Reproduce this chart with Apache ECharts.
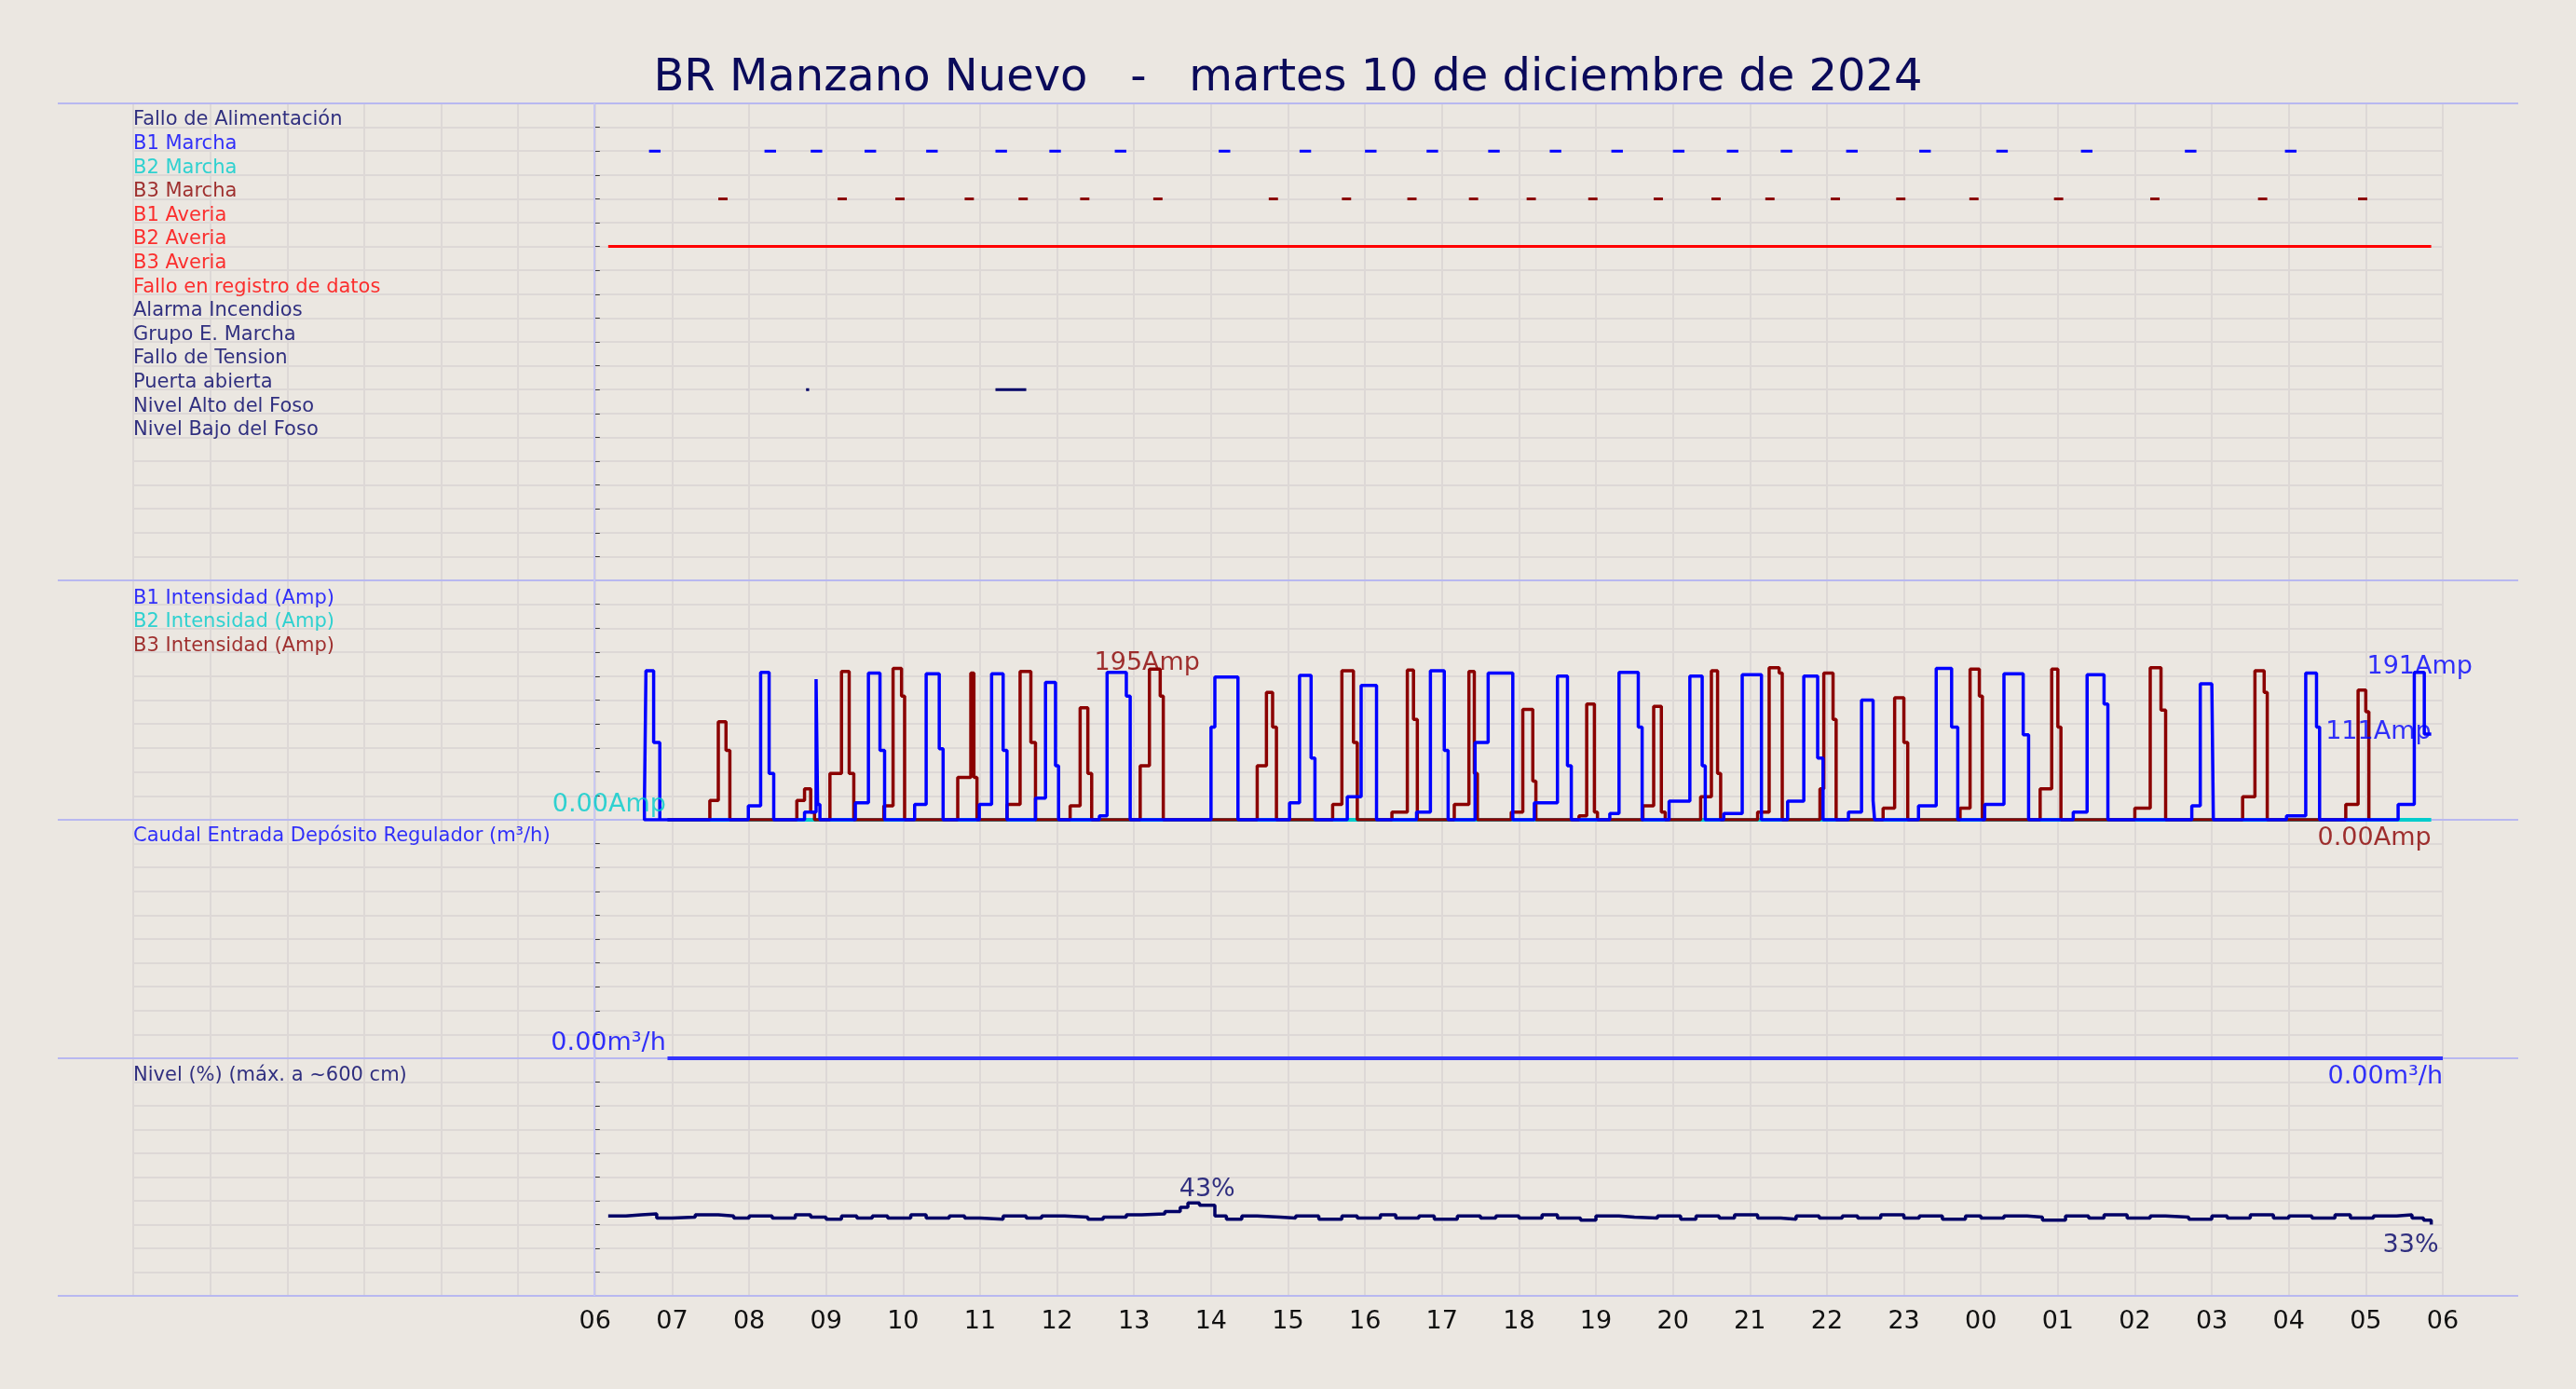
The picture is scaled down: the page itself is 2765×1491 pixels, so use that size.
<!DOCTYPE html>
<html><head><meta charset="utf-8">
<script src="https://cdn.jsdelivr.net/npm/echarts@6/dist/echarts.min.js"></script>
<style>html,body{margin:0;background:#ebe7e1}#c{width:2765px;height:1491px}</style>
</head><body><div id="c"></div>
<script>
// ---- DATA (hours after 06:00) ----
const statusLabels = ["Fallo de Alimentación","B1 Marcha","B2 Marcha","B3 Marcha","B1 Averia","B2 Averia","B3 Averia","Fallo en registro de datos","Alarma Incendios","Grupo E. Marcha","Fallo de Tension","Puerta abierta","Nivel Alto del Foso","Nivel Bajo del Foso"];
const statusColors = ["#000066","#0000ff","#00cccc","#8b0000","#ff0000","#ff0000","#ff0000","#ff0000","#000066","#000066","#000066","#000066","#000066","#000066"];
const b1Marcha = [0.7,2.2,2.8,3.5,4.3,5.2,5.9,6.75,8.1,9.15,10.0,10.8,11.6,12.4,13.2,14.0,14.7,15.4,16.25,17.2,18.2,19.3,20.65,21.95];
const b3Marcha = [1.6,3.15,3.9,4.8,5.5,6.3,7.25,8.75,9.7,10.55,11.35,12.1,12.9,13.75,14.5,15.2,16.05,16.9,17.85,18.95,20.2,21.6,22.9];
const b2Averia = [[0.17,23.85]];
const puerta = [[2.74,2.78],[5.2,5.6]];
// cycles: [start, rise, drop, end, low, peak, tail]
const b1Cycles = [[0.64,0.66,0.76,0.84,20,193,100],[1.99,2.15,2.26,2.32,18,191,60],[2.72,2.87,2.89,2.92,10,182,20],[3.38,3.55,3.7,3.76,22,190,90],[4.15,4.3,4.47,4.52,20,189,92],[4.99,5.15,5.3,5.35,20,189,90],[5.72,5.85,5.98,6.02,28,178,70],[6.55,6.65,6.9,6.95,5,191,160],[8.0,8.05,8.3,8.35,120,185,185],[9.02,9.15,9.3,9.35,22,187,80],[9.77,9.95,10.1,10.15,30,174,174],[10.67,10.85,11.03,11.08,10,193,90],[11.43,11.6,11.88,11.92,100,190,190],[12.2,12.5,12.63,12.68,22,186,70],[13.18,13.3,13.55,13.6,8,191,120],[13.95,14.22,14.38,14.42,24,186,70],[14.66,14.9,15.1,15.15,8,188,188],[15.49,15.7,15.88,15.95,24,186,80],[16.28,16.45,16.6,16.62,10,155,25],[17.19,17.42,17.62,17.7,18,196,120],[18.05,18.3,18.55,18.62,20,189,110],[19.2,19.38,19.6,19.65,10,188,150],[20.74,20.85,21.0,21.02,18,176,176],[21.97,22.22,22.36,22.4,5,190,120],[23.42,23.63,23.76,23.85,20,191,111]];
const b3Cycles = [[1.49,1.6,1.7,1.75,25,127,90],[2.62,2.72,2.8,2.85,25,40,10],[3.05,3.2,3.3,3.36,60,192,60],[3.75,3.87,3.98,4.02,18,196,160],[4.71,4.88,4.92,4.96,55,190,55],[5.35,5.52,5.66,5.72,20,192,100],[6.17,6.3,6.4,6.45,18,145,60],[7.08,7.2,7.34,7.38,70,195,160],[8.6,8.72,8.8,8.85,70,165,120],[9.58,9.7,9.85,9.9,20,193,100],[10.35,10.55,10.63,10.68,10,194,130],[11.16,11.35,11.42,11.46,20,192,60],[11.9,12.05,12.18,12.22,10,143,50],[12.78,12.88,12.98,13.02,5,150,10],[13.61,13.75,13.85,13.9,18,147,10],[14.36,14.5,14.58,14.62,30,193,60],[15.1,15.25,15.38,15.42,10,197,190],[15.91,15.96,16.08,16.12,40,190,130],[16.73,16.88,17.0,17.05,15,158,100],[17.73,17.86,17.98,18.02,15,195,160],[18.77,18.92,19.0,19.04,40,195,120],[20.0,20.2,20.34,20.4,15,197,142],[21.4,21.56,21.68,21.72,30,193,165],[22.74,22.9,23.0,23.04,20,168,140]];
const flowStart = 0.94, flowEnd = 24, flowValue = 0;
const nivelTimes = [0.17,0.4,0.6,0.8,1.0,1.3,1.6,1.8,2.0,2.3,2.6,2.8,3.0,3.2,3.4,3.6,3.8,4.1,4.3,4.6,4.8,5.0,5.3,5.6,5.8,6.1,6.4,6.6,6.9,7.1,7.4,7.6,7.7,7.85,8.05,8.2,8.4,8.6,8.9,9.1,9.4,9.7,9.9,10.2,10.4,10.7,10.9,11.2,11.5,11.7,12.0,12.3,12.5,12.8,13.0,13.3,13.5,13.8,14.1,14.3,14.6,14.8,15.1,15.4,15.6,15.9,16.2,16.4,16.7,17.0,17.2,17.5,17.8,18.0,18.3,18.6,18.8,19.1,19.4,19.6,19.9,20.2,20.4,20.7,21.0,21.2,21.5,21.8,22.0,22.3,22.6,22.8,23.1,23.4,23.6,23.75,23.85];
const nivelValues = [37,37.5,38,36,36.5,37.5,37,36,37,36,37.5,36.5,35.5,37,36,37,36,37.5,36,37,36,35.5,37,36,37,36.5,35.5,36.5,37.5,38,39,41,43,42,37,35.5,37,36.5,36,37,35.5,37,36,37.5,36,37,35.5,37,36,37,36,37.5,36,35,37,36.5,36,37,35.5,37,36,37.5,36,35.5,37,36,37,36,37.5,36,37,35.5,37,36,37,36.5,35,37,36,37.5,36,37,36.5,35.5,37,36,37.5,36,37,36,37.5,36,37,37.5,36,35,33];
const xTickLabels = ["06","07","08","09","10","11","12","13","14","15","16","17","18","19","20","21","22","23","00","01","02","03","04","05","06"];

// ---- BUILD ----
function cyclePts(cycles){
  const p=[[0.94,0]];
  cycles.forEach(c=>{const [s,r,d,e,lo,pk,tl]=c;
    p.push([s,0],[s,lo],[r,lo],[r,pk],[d,pk],[d,tl],[e,tl]);
    if(e<23.8)p.push([e,0]);});
  return p;
}
function dashes(times,row,len){const d=[];times.forEach(t=>{d.push([t,row],[t+len,row],[t+len,'-']);});return d;}
function segs(list,row){const d=[];list.forEach(s=>{d.push([s[0],row],[s[1],row],[s[1],'-']);});return d;}
const GRID=[{top:111,h:512},{top:623,h:257},{top:880,h:256},{top:1136,h:255}];
const grids=GRID.map(g=>({left:143,right:143,top:g.top,height:g.h}));
const gl={show:true,lineStyle:{color:'#ddd8d6',width:2}};
const xAxes=GRID.map((g,i)=>({gridIndex:i,type:'value',min:-6,max:24,interval:1,
  axisLine:{show:false},axisTick:{show:false},
  splitLine:gl,
  axisLabel:{show:i==3,fontSize:27,color:'#111',fontFamily:'DejaVu Sans',margin:14,
    formatter:v=>v>=0?xTickLabels[v]:''}}));
const yAxes=[
 {gridIndex:0,min:0,max:20,interval:1,inverse:true},
 {gridIndex:1,min:0,max:310,interval:31},
 {gridIndex:2,min:0,max:10,interval:1},
 {gridIndex:3,min:0,max:110,interval:11}].map(a=>Object.assign(a,{type:'value',position:'right',
  axisLine:{show:false},axisLabel:{show:false},axisTick:{show:true,inside:false,length:5,lineStyle:{color:'#333'}},splitLine:gl}));
const F='DejaVu Sans';
function textSeries(gi,items){return {type:'scatter',xAxisIndex:gi,yAxisIndex:gi,symbolSize:0,silent:true,z:10,
  data:items.map(t=>({value:[t.x,t.y],label:{show:true,formatter:t.text,position:t.pos||'right',distance:0,color:t.color,fontSize:t.fs||21,fontFamily:F,align:t.align,verticalAlign:'middle',offset:t.off||[0,0]}}))};}
const series=[];
series.push(textSeries(0,statusLabels.map((s,i)=>({x:-6,y:i+0.7,text:s,color:statusColors[i]}))));
const ln=(gi,data,color,w,z)=>({type:'line',xAxisIndex:gi,yAxisIndex:gi,data,showSymbol:false,symbol:'none',connectNulls:false,lineStyle:{color,width:w},z:z||3,animation:false});
series.push(ln(0,dashes(b1Marcha,2,0.15),'#0000ff',3));
series.push(ln(0,dashes(b3Marcha,4,0.12),'#8b0000',3));
series.push(ln(0,segs(b2Averia,6),'#ff0000',3));
series.push(ln(0,segs(puerta,12),'#000066',3));
series.push(textSeries(1,[{x:-6,y:287,text:'B1 Intensidad (Amp)',color:'#0000ff'},{x:-6,y:256,text:'B2 Intensidad (Amp)',color:'#00cccc'},{x:-6,y:225,text:'B3 Intensidad (Amp)',color:'#8b0000'}]));
series.push(ln(1,[[0.94,0],[23.85,0]],'#00cccc',4,2));
series.push(ln(1,cyclePts(b3Cycles),'#8b0000',3.5,4));
series.push(ln(1,cyclePts(b1Cycles),'#0000ff',3.5,5));
series.push(textSeries(1,[
 {x:7.17,y:195,text:'195Amp',color:'#8b0000',pos:'top',fs:27,off:[0,-6]},
 {x:23.7,y:191,text:'191Amp',color:'#0000ff',pos:'top',fs:27,off:[0,-6]},
 {x:23.85,y:111,text:'111Amp',color:'#0000ff',pos:'left',fs:27,off:[0,-2]},
 {x:0.92,y:0,text:'0.00Amp',color:'#00cccc',pos:'left',fs:27,off:[0,-16]},
 {x:23.85,y:0,text:'0.00Amp',color:'#8b0000',pos:'left',fs:27,off:[0,20]}]));
series.push(textSeries(2,[{x:-6,y:9.3,text:'Caudal Entrada Depósito Regulador (m³/h)',color:'#0000ff'}]));
series.push(ln(2,[[flowStart,flowValue],[flowEnd,flowValue]],'#3333ff',4));
series.push(textSeries(2,[{x:0.92,y:0,text:'0.00m³/h',color:'#0000ff',pos:'left',fs:27,off:[0,-16]},{x:24,y:0,text:'0.00m³/h',color:'#0000ff',pos:'left',fs:27,off:[0,20]}]));
series.push(textSeries(3,[{x:-6,y:102,text:'Nivel (%) (máx. a ~600 cm)',color:'#000066'}]));
series.push(Object.assign(ln(3,nivelTimes.map((t,i)=>[t,nivelValues[i]]),'#000066',3.5),{step:'end'}));
series.push(textSeries(3,[{x:7.95,y:43,text:'43%',color:'#000066',pos:'top',fs:27,off:[0,-14]},{x:23.85,y:33,text:'33%',color:'#000066',pos:'left',fs:27,off:[8,22]}]));
const border='#b8b8f0';
const graphic=[111,623,880,1136,1391].map(y=>({type:'line',shape:{x1:62,y1:y,x2:2703,y2:y},style:{stroke:border,lineWidth:2},z:1}));
graphic.push({type:'line',shape:{x1:638,y1:111,x2:638,y2:1391},style:{stroke:'#c8c8f0',lineWidth:2},z:1});
const chart=echarts.init(document.getElementById('c'));
chart.setOption({backgroundColor:'#ebe7e1',animation:false,
 title:{text:'BR Manzano Nuevo   -   martes 10 de diciembre de 2024',left:'center',top:56,textStyle:{fontSize:48,fontWeight:'normal',color:'#0a0a5a',fontFamily:F}},
 grid:grids,xAxis:xAxes,yAxis:yAxes,series,graphic});
</script></body></html>
